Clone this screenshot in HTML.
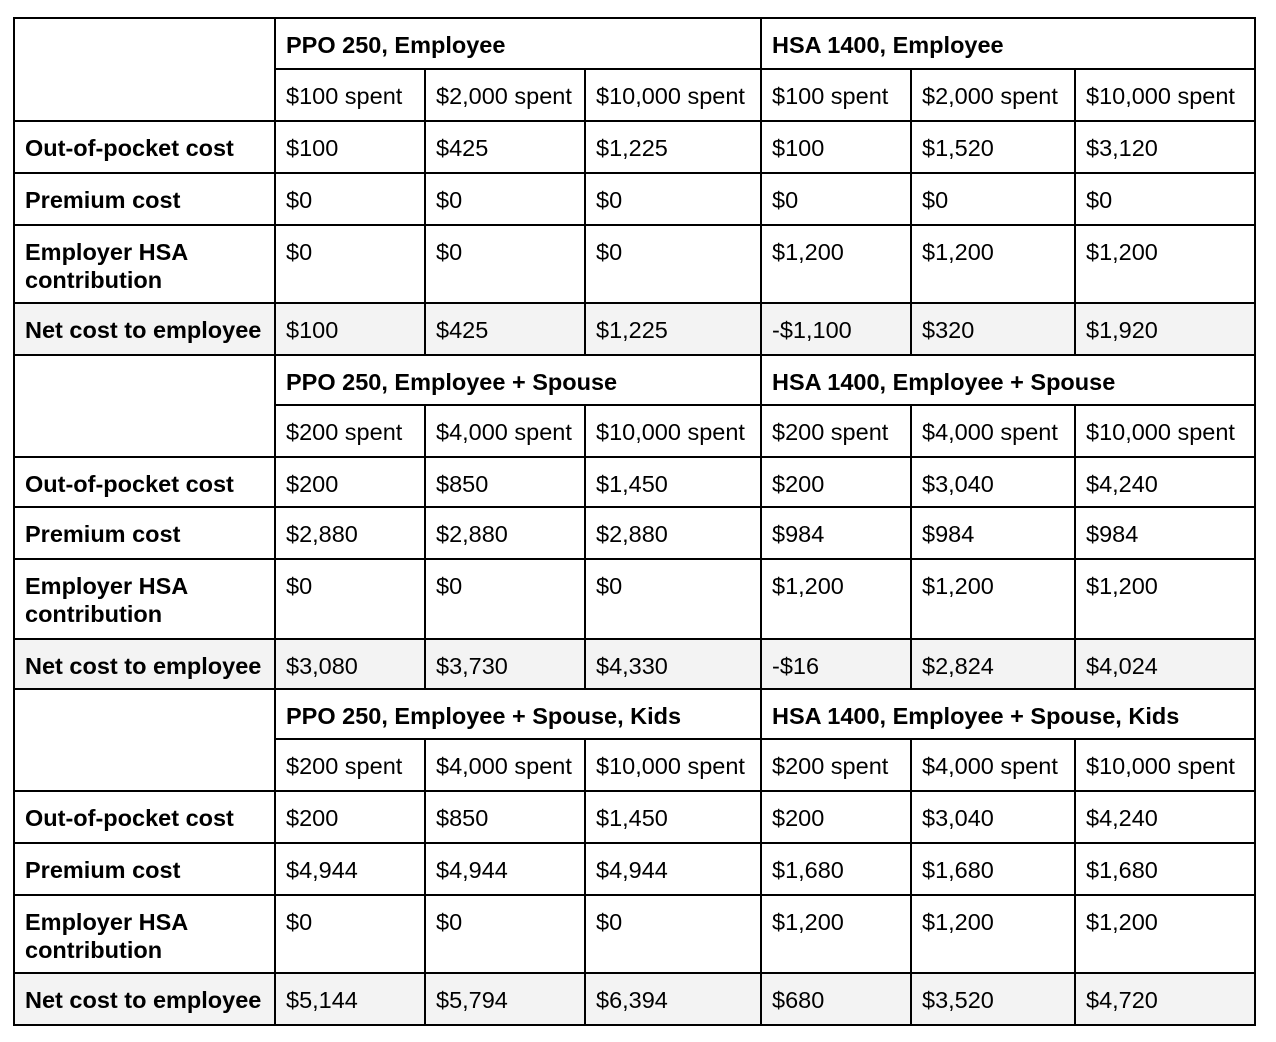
<!DOCTYPE html>
<html><head><meta charset="utf-8"><style>
html,body{margin:0;padding:0;background:#fff;width:1276px;height:1042px;overflow:hidden;position:relative}
.c{position:absolute;box-sizing:border-box;border:2px solid #000;padding:12px 0 0 10px;font:23.5px/28px "Liberation Sans",Arial,sans-serif;color:#000;white-space:nowrap;overflow:hidden}
.b{font-weight:bold}
.g{background:#f3f3f3}
</style></head><body>

<div class="c" style="left:13px;top:17px;width:263px;height:105px"></div>
<div class="c b" style="left:274px;top:17px;width:488px;height:53px">PPO 250, Employee</div>
<div class="c b" style="left:760px;top:17px;width:496px;height:53px">HSA 1400, Employee</div>
<div class="c" style="left:274px;top:68px;width:152px;height:54px">$100 spent</div>
<div class="c" style="left:424px;top:68px;width:162px;height:54px">$2,000 spent</div>
<div class="c" style="left:584px;top:68px;width:178px;height:54px">$10,000 spent</div>
<div class="c" style="left:760px;top:68px;width:152px;height:54px">$100 spent</div>
<div class="c" style="left:910px;top:68px;width:166px;height:54px">$2,000 spent</div>
<div class="c" style="left:1074px;top:68px;width:182px;height:54px">$10,000 spent</div>

<div class="c b" style="left:13px;top:120px;width:263px;height:54px">Out-of-pocket cost</div>
<div class="c" style="left:274px;top:120px;width:152px;height:54px">$100</div>
<div class="c" style="left:424px;top:120px;width:162px;height:54px">$425</div>
<div class="c" style="left:584px;top:120px;width:178px;height:54px">$1,225</div>
<div class="c" style="left:760px;top:120px;width:152px;height:54px">$100</div>
<div class="c" style="left:910px;top:120px;width:166px;height:54px">$1,520</div>
<div class="c" style="left:1074px;top:120px;width:182px;height:54px">$3,120</div>

<div class="c b" style="left:13px;top:172px;width:263px;height:54px">Premium cost</div>
<div class="c" style="left:274px;top:172px;width:152px;height:54px">$0</div>
<div class="c" style="left:424px;top:172px;width:162px;height:54px">$0</div>
<div class="c" style="left:584px;top:172px;width:178px;height:54px">$0</div>
<div class="c" style="left:760px;top:172px;width:152px;height:54px">$0</div>
<div class="c" style="left:910px;top:172px;width:166px;height:54px">$0</div>
<div class="c" style="left:1074px;top:172px;width:182px;height:54px">$0</div>

<div class="c b" style="left:13px;top:224px;width:263px;height:80px">Employer HSA<br>contribution</div>
<div class="c" style="left:274px;top:224px;width:152px;height:80px">$0</div>
<div class="c" style="left:424px;top:224px;width:162px;height:80px">$0</div>
<div class="c" style="left:584px;top:224px;width:178px;height:80px">$0</div>
<div class="c" style="left:760px;top:224px;width:152px;height:80px">$1,200</div>
<div class="c" style="left:910px;top:224px;width:166px;height:80px">$1,200</div>
<div class="c" style="left:1074px;top:224px;width:182px;height:80px">$1,200</div>

<div class="c b g" style="left:13px;top:302px;width:263px;height:54px">Net cost to employee</div>
<div class="c g" style="left:274px;top:302px;width:152px;height:54px">$100</div>
<div class="c g" style="left:424px;top:302px;width:162px;height:54px">$425</div>
<div class="c g" style="left:584px;top:302px;width:178px;height:54px">$1,225</div>
<div class="c g" style="left:760px;top:302px;width:152px;height:54px">-$1,100</div>
<div class="c g" style="left:910px;top:302px;width:166px;height:54px">$320</div>
<div class="c g" style="left:1074px;top:302px;width:182px;height:54px">$1,920</div>

<div class="c" style="left:13px;top:354px;width:263px;height:104px"></div>
<div class="c b" style="left:274px;top:354px;width:488px;height:52px">PPO 250, Employee + Spouse</div>
<div class="c b" style="left:760px;top:354px;width:496px;height:52px">HSA 1400, Employee + Spouse</div>
<div class="c" style="left:274px;top:404px;width:152px;height:54px">$200 spent</div>
<div class="c" style="left:424px;top:404px;width:162px;height:54px">$4,000 spent</div>
<div class="c" style="left:584px;top:404px;width:178px;height:54px">$10,000 spent</div>
<div class="c" style="left:760px;top:404px;width:152px;height:54px">$200 spent</div>
<div class="c" style="left:910px;top:404px;width:166px;height:54px">$4,000 spent</div>
<div class="c" style="left:1074px;top:404px;width:182px;height:54px">$10,000 spent</div>

<div class="c b" style="left:13px;top:456px;width:263px;height:52px">Out-of-pocket cost</div>
<div class="c" style="left:274px;top:456px;width:152px;height:52px">$200</div>
<div class="c" style="left:424px;top:456px;width:162px;height:52px">$850</div>
<div class="c" style="left:584px;top:456px;width:178px;height:52px">$1,450</div>
<div class="c" style="left:760px;top:456px;width:152px;height:52px">$200</div>
<div class="c" style="left:910px;top:456px;width:166px;height:52px">$3,040</div>
<div class="c" style="left:1074px;top:456px;width:182px;height:52px">$4,240</div>

<div class="c b" style="left:13px;top:506px;width:263px;height:54px">Premium cost</div>
<div class="c" style="left:274px;top:506px;width:152px;height:54px">$2,880</div>
<div class="c" style="left:424px;top:506px;width:162px;height:54px">$2,880</div>
<div class="c" style="left:584px;top:506px;width:178px;height:54px">$2,880</div>
<div class="c" style="left:760px;top:506px;width:152px;height:54px">$984</div>
<div class="c" style="left:910px;top:506px;width:166px;height:54px">$984</div>
<div class="c" style="left:1074px;top:506px;width:182px;height:54px">$984</div>

<div class="c b" style="left:13px;top:558px;width:263px;height:82px">Employer HSA<br>contribution</div>
<div class="c" style="left:274px;top:558px;width:152px;height:82px">$0</div>
<div class="c" style="left:424px;top:558px;width:162px;height:82px">$0</div>
<div class="c" style="left:584px;top:558px;width:178px;height:82px">$0</div>
<div class="c" style="left:760px;top:558px;width:152px;height:82px">$1,200</div>
<div class="c" style="left:910px;top:558px;width:166px;height:82px">$1,200</div>
<div class="c" style="left:1074px;top:558px;width:182px;height:82px">$1,200</div>

<div class="c b g" style="left:13px;top:638px;width:263px;height:52px">Net cost to employee</div>
<div class="c g" style="left:274px;top:638px;width:152px;height:52px">$3,080</div>
<div class="c g" style="left:424px;top:638px;width:162px;height:52px">$3,730</div>
<div class="c g" style="left:584px;top:638px;width:178px;height:52px">$4,330</div>
<div class="c g" style="left:760px;top:638px;width:152px;height:52px">-$16</div>
<div class="c g" style="left:910px;top:638px;width:166px;height:52px">$2,824</div>
<div class="c g" style="left:1074px;top:638px;width:182px;height:52px">$4,024</div>

<div class="c" style="left:13px;top:688px;width:263px;height:104px"></div>
<div class="c b" style="left:274px;top:688px;width:488px;height:52px">PPO 250, Employee + Spouse, Kids</div>
<div class="c b" style="left:760px;top:688px;width:496px;height:52px">HSA 1400, Employee + Spouse, Kids</div>
<div class="c" style="left:274px;top:738px;width:152px;height:54px">$200 spent</div>
<div class="c" style="left:424px;top:738px;width:162px;height:54px">$4,000 spent</div>
<div class="c" style="left:584px;top:738px;width:178px;height:54px">$10,000 spent</div>
<div class="c" style="left:760px;top:738px;width:152px;height:54px">$200 spent</div>
<div class="c" style="left:910px;top:738px;width:166px;height:54px">$4,000 spent</div>
<div class="c" style="left:1074px;top:738px;width:182px;height:54px">$10,000 spent</div>

<div class="c b" style="left:13px;top:790px;width:263px;height:54px">Out-of-pocket cost</div>
<div class="c" style="left:274px;top:790px;width:152px;height:54px">$200</div>
<div class="c" style="left:424px;top:790px;width:162px;height:54px">$850</div>
<div class="c" style="left:584px;top:790px;width:178px;height:54px">$1,450</div>
<div class="c" style="left:760px;top:790px;width:152px;height:54px">$200</div>
<div class="c" style="left:910px;top:790px;width:166px;height:54px">$3,040</div>
<div class="c" style="left:1074px;top:790px;width:182px;height:54px">$4,240</div>

<div class="c b" style="left:13px;top:842px;width:263px;height:54px">Premium cost</div>
<div class="c" style="left:274px;top:842px;width:152px;height:54px">$4,944</div>
<div class="c" style="left:424px;top:842px;width:162px;height:54px">$4,944</div>
<div class="c" style="left:584px;top:842px;width:178px;height:54px">$4,944</div>
<div class="c" style="left:760px;top:842px;width:152px;height:54px">$1,680</div>
<div class="c" style="left:910px;top:842px;width:166px;height:54px">$1,680</div>
<div class="c" style="left:1074px;top:842px;width:182px;height:54px">$1,680</div>

<div class="c b" style="left:13px;top:894px;width:263px;height:80px">Employer HSA<br>contribution</div>
<div class="c" style="left:274px;top:894px;width:152px;height:80px">$0</div>
<div class="c" style="left:424px;top:894px;width:162px;height:80px">$0</div>
<div class="c" style="left:584px;top:894px;width:178px;height:80px">$0</div>
<div class="c" style="left:760px;top:894px;width:152px;height:80px">$1,200</div>
<div class="c" style="left:910px;top:894px;width:166px;height:80px">$1,200</div>
<div class="c" style="left:1074px;top:894px;width:182px;height:80px">$1,200</div>

<div class="c b g" style="left:13px;top:972px;width:263px;height:54px">Net cost to employee</div>
<div class="c g" style="left:274px;top:972px;width:152px;height:54px">$5,144</div>
<div class="c g" style="left:424px;top:972px;width:162px;height:54px">$5,794</div>
<div class="c g" style="left:584px;top:972px;width:178px;height:54px">$6,394</div>
<div class="c g" style="left:760px;top:972px;width:152px;height:54px">$680</div>
<div class="c g" style="left:910px;top:972px;width:166px;height:54px">$3,520</div>
<div class="c g" style="left:1074px;top:972px;width:182px;height:54px">$4,720</div>

</body></html>
